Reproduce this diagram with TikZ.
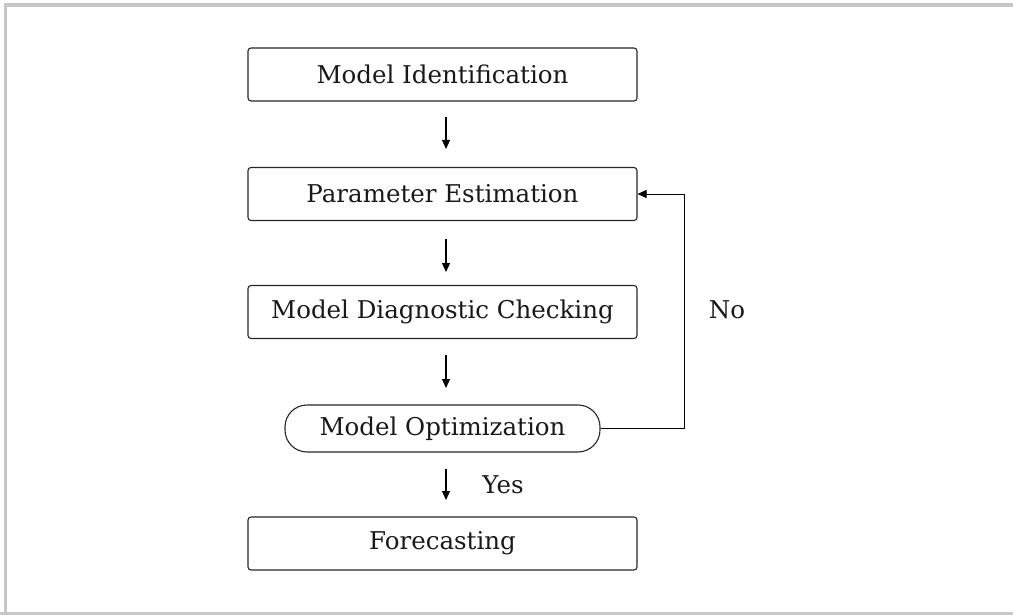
\documentclass[tikz,border=0pt]{standalone}
\usepackage{fontspec}
\setmainfont{DejaVu Serif}
\usetikzlibrary{arrows.meta}
\begin{document}
\begin{tikzpicture}[x=1pt,y=-1pt,
  txt/.style={font=\fontsize{24.5}{27}\selectfont, text=black!90},
  stepbox/.style={txt, draw=black!85, line width=1.1pt, rounded corners=3pt,
    minimum width=389pt, minimum height=53pt, inner sep=0pt},
  pill/.style={txt, draw=black!85, line width=1.1pt, rounded corners=22pt,
    minimum width=315pt, minimum height=47pt, inner sep=0pt},
  flow/.style={draw=black, line width=1.1pt, -{Triangle[length=9pt,width=8pt]}}]
\useasboundingbox (0,0) rectangle (1013,615);
% outer frame (left, top and bottom edges only)
\draw[black!22, line width=3.5pt] (5.5,615) -- (5.5,5) -- (1013,5);
\draw[black!22, line width=3.5pt] (0,613.5) -- (1013,613.5);
% process steps
\node[stepbox] (ident) at (442.5,74.5) {Model Identification};
\node[stepbox] (param) at (442.5,194) {Parameter Estimation};
\node[stepbox] (diag)  at (442.5,312) {Model Diagnostic Checking};
\node[pill]    (opt)   at (442.5,428.5) {Model Optimization};
\node[stepbox] (fore)  at (442.5,543.5) {Forecasting};
% short downward arrows between the steps
\coordinate (a1s) at (446,117); \coordinate (a1e) at (446,149);
\coordinate (a2s) at (446,239); \coordinate (a2e) at (446,272);
\coordinate (a3s) at (446,355); \coordinate (a3e) at (446,388);
\coordinate (a4s) at (446,469); \coordinate (a4e) at (446,500);
\draw[flow] (a1s) -- (a1e);
\draw[flow] (a2s) -- (a2e);
\draw[flow] (a3s) -- (a3e);
\draw[flow] (a4s) -- (a4e);
\node[txt] (yes) at (503,485) {Yes};
% feedback loop back to parameter estimation
\coordinate (fbx) at (684,0);
\draw[flow, line width=0.9pt] (opt.east) -| (fbx |- param.east) -- (param.east);
\node[txt] (no) at (727,310) {No};
\end{tikzpicture}
\end{document}
